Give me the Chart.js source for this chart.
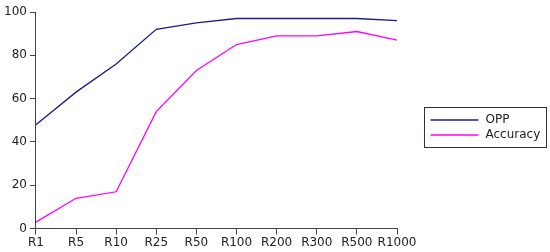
<!DOCTYPE html>
<html>
<head>
<meta charset="utf-8">
<script src="https://cdn.jsdelivr.net/npm/chart.js@4"></script>
<style>
  html, body { margin: 0; padding: 0; background: #fff; }
  .chart-container { position: relative; width: 550px; height: 252px; }
</style>
</head>
<body>
<div class="chart-container">
  <canvas id="recallChart" width="550" height="252"></canvas>
</div>
<script>
const categories = ['R1', 'R5', 'R10', 'R25', 'R50', 'R100', 'R200', 'R300', 'R500', 'R1000'];
const oppValues = [48, 63, 76, 92, 95, 97, 97, 97, 97, 96];
const accuracyValues = [3, 14, 17, 54, 73, 85, 89, 89, 91, 87];
const yTicks = [0, 20, 40, 60, 80, 100];

const axisColor = '#444';
const textColor = '#222';
const fontSpec = { family: 'DejaVu Sans', size: 12 };

// legend box drawn on the canvas, right of the plot
const boxLegend = {
    id: 'boxLegend',
    afterDraw(chart) {
        const c = chart.ctx;
        const x = 424.5, y = 107.5, w = 122, h = 40;
        c.save();
        c.fillStyle = '#fff';
        c.fillRect(x, y, w, h);
        c.strokeStyle = '#333';
        c.lineWidth = 1;
        c.strokeRect(x, y, w, h);
        c.font = '12px "DejaVu Sans"';
        c.textBaseline = 'middle';
        chart.data.datasets.forEach((ds, i) => {
            const ly = y + 12.5 + i * 15;
            c.strokeStyle = ds.borderColor;
            c.lineWidth = 1.5;
            c.beginPath();
            c.moveTo(x + 6, ly);
            c.lineTo(x + 54, ly);
            c.stroke();
            c.fillStyle = textColor;
            c.fillText(ds.label, x + 61, ly);
        });
        c.restore();
    }
};

const ctx = document.getElementById('recallChart').getContext('2d');
new Chart(ctx, {
    type: 'line',
    data: {
        labels: categories,
        datasets: [
            {
                label: 'OPP',
                data: oppValues,
                borderColor: '#1c1c8c',
                borderWidth: 1.3,
                pointRadius: 0,
                tension: 0,
                fill: false
            },
            {
                label: 'Accuracy',
                data: accuracyValues,
                borderColor: '#ff00ff',
                borderWidth: 1.3,
                pointRadius: 0,
                tension: 0,
                fill: false
            }
        ]
    },
    options: {
        responsive: false,
        animation: false,
        devicePixelRatio: 1,
        layout: { padding: { left: 1, right: 153, top: 12, bottom: 1 } },
        plugins: {
            legend: { display: false },
            tooltip: { enabled: false }
        },
        scales: {
            x: {
                offset: false,
                grid: {
                    display: true,
                    drawOnChartArea: false,
                    drawTicks: true,
                    tickLength: 6,
                    color: axisColor
                },
                border: { display: true, color: axisColor, width: 1 },
                ticks: {
                    color: textColor,
                    font: fontSpec,
                    padding: 1,
                    maxRotation: 0,
                    autoSkip: false
                }
            },
            y: {
                min: 0,
                max: 100,
                afterBuildTicks(scale) {
                    scale.ticks = yTicks.map(v => ({ value: v }));
                },
                grid: {
                    display: true,
                    drawOnChartArea: false,
                    drawTicks: true,
                    tickLength: 6,
                    color: axisColor
                },
                border: { display: true, color: axisColor, width: 1 },
                ticks: {
                    color: textColor,
                    font: fontSpec,
                    padding: 3
                }
            }
        }
    },
    plugins: [boxLegend]
});
</script>
</body>
</html>
